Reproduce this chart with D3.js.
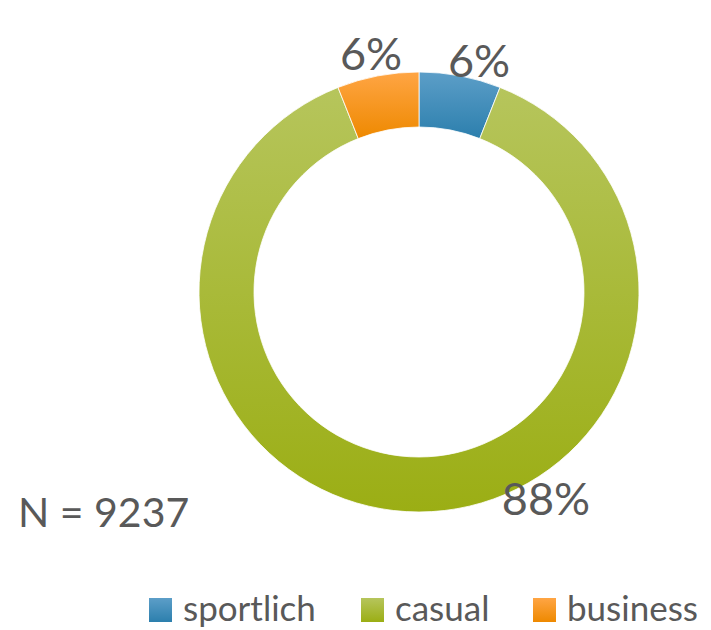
<!DOCTYPE html>
<html><head><meta charset="utf-8">
<script src="https://cdn.jsdelivr.net/npm/d3@7"></script>
<style>body{margin:0;background:#fff}text{font-family:Lato,"Open Sans",sans-serif;fill:#595959}</style>
</head><body><svg id="c" width="711" height="630"></svg>
<script>
const categories = ["sportlich", "casual", "business"];
const values = [6, 88, 6];
const labels = ["6%", "88%", "6%"];
const colorsTop = ["#5c9ec8", "#b6c55c", "#ffa544"];
const colorsBottom = ["#2c7fad", "#9bae14", "#ee8900"];
const note = "N = 9237";

const svg = d3.select("#c");
const defs = svg.append("defs");
categories.forEach((c,i)=>{
  const g = defs.append("linearGradient").attr("id","g"+i).attr("x1",0).attr("y1",0).attr("x2",0).attr("y2",1);
  g.append("stop").attr("offset","0%").attr("stop-color",colorsTop[i]);
  g.append("stop").attr("offset","100%").attr("stop-color",colorsBottom[i]);
});
const cx=419, cy=292, R=220, r=165;
const pie = d3.pie().sort(null).value(d=>d)(values);
const arc = d3.arc().innerRadius(r).outerRadius(R);
const g = svg.append("g").attr("transform",`translate(${cx},${cy})`);
g.selectAll("path").data(pie).join("path").attr("d",arc)
  .attr("fill",(d,i)=>`url(#g${i})`).attr("stroke","#fff").attr("stroke-width",0.8);

// data labels
const labelPos = [[479,77],[546,515],[371,70]];
svg.selectAll("text.lbl").data(labels).join("text").attr("class","lbl")
  .attr("x",(d,i)=>labelPos[i][0]).attr("y",(d,i)=>labelPos[i][1])
  .attr("text-anchor","middle").attr("font-size",45).text(d=>d);

svg.append("text").attr("x",18).attr("y",527).attr("font-size",41).text(note);

// legend
const legX = [149,361,533];
const lg = svg.selectAll("g.leg").data(categories).join("g").attr("class","leg")
  .attr("transform",(d,i)=>`translate(${legX[i]},598)`);
lg.append("rect").attr("width",23).attr("height",24).attr("fill",(d,i)=>`url(#g${i})`);
lg.append("text").attr("x",34).attr("y",23).attr("font-size",35).text(d=>d);
</script></body></html>
